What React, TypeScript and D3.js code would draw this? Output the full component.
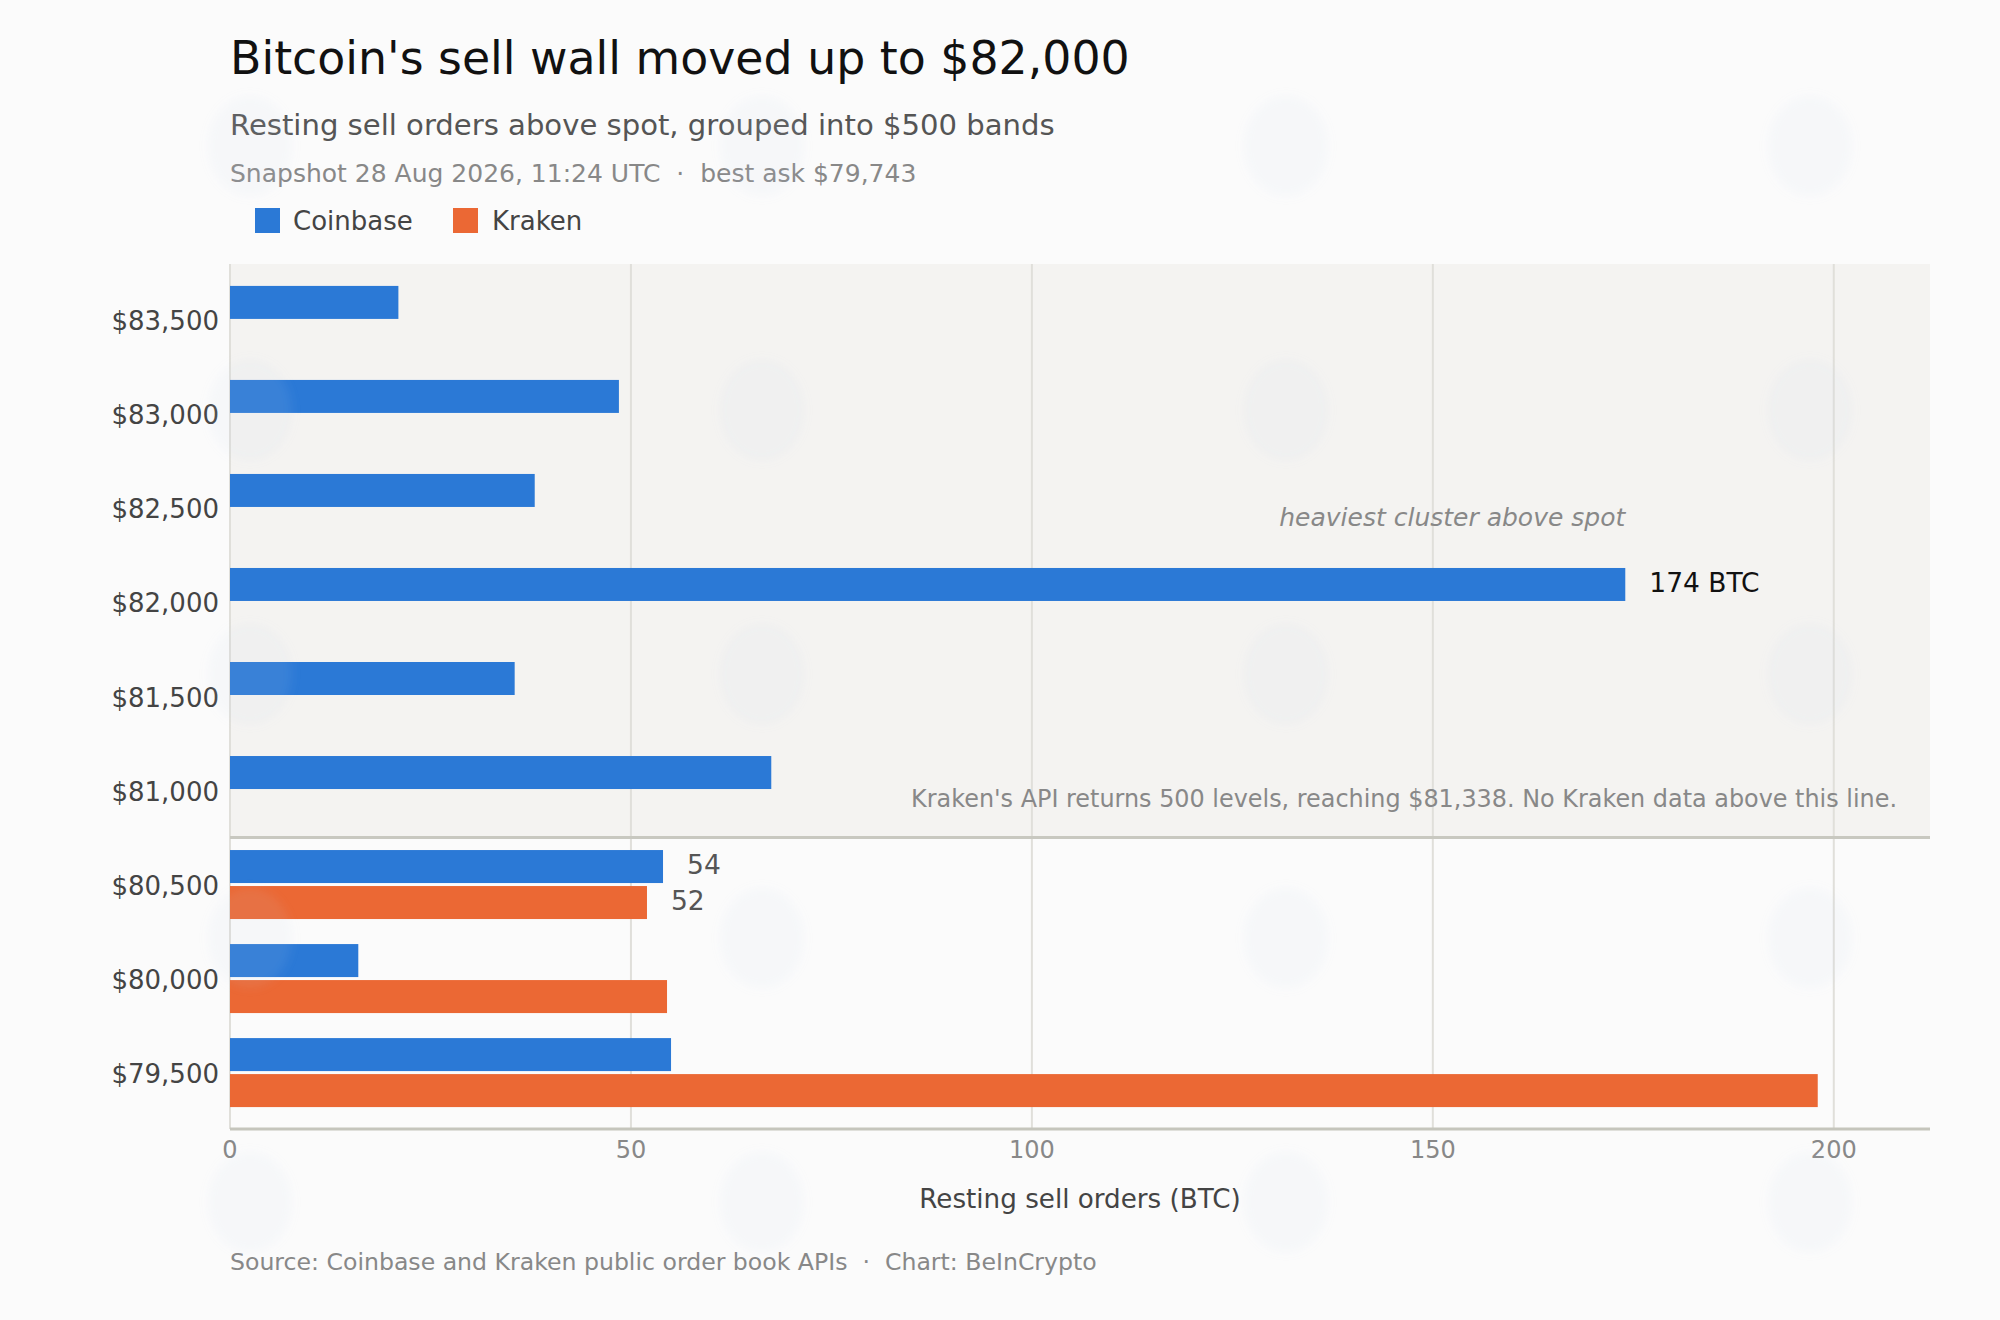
import * as d3 from 'd3';

// price bands, top to bottom
const bands = ['$83,500', '$83,000', '$82,500', '$82,000', '$81,500', '$81,000', '$80,500', '$80,000', '$79,500'];
// resting sell orders in BTC
const coinbase = [21, 48.5, 38, 174, 35.5, 67.5, 54, 16, 55];
const kraken: (number | null)[] = [null, null, null, null, null, null, 52, 54.5, 198];
const xTicks = [0, 50, 100, 150, 200];
// bands above this one have no Kraken data
const krakenLimitBand = '$81,000';

const valueLabels = [
  { band: '$82,000', series: 'coinbase', text: '174 BTC', dark: true },
  { band: '$80,500', series: 'coinbase', text: '54', dark: false },
  { band: '$80,500', series: 'kraken', text: '52', dark: false },
];

// faint logo watermark grid
const wmCols = [250, 762, 1286, 1810];
const wmRows = [146, 410, 674, 938, 1202];

const W = 2000;
const H = 1320;
const margin = { top: 264, right: 70, bottom: 191, left: 230 };
const FONT = '"DejaVu Sans", sans-serif';
const BLUE = '#2b79d6';
const ORANGE = '#eb6834';

const App = () => {
  const x = d3.scaleLinear().domain([0, 212]).range([margin.left, W - margin.right]);
  const y = d3.scalePoint<string>().domain(bands).range([margin.top, H - margin.bottom]).padding(0.6);
  const step = y.step();
  const barH = 33;
  const gap = 3;
  const plotTop = margin.top;
  const plotBottom = H - margin.bottom;
  const sepY = (y(krakenLimitBand) as number) + step / 2;

  const barY = (band: string, series: string) => {
    const c = y(band) as number;
    return series === 'coinbase' ? c - barH - gap / 2 : c + gap / 2;
  };

  return (
    <svg width={W} height={H} style={{ position: 'absolute', left: 0, top: 0, display: 'block' }} fontFamily={FONT}>
      <defs>
        <filter id="wm-blur" x="-50%" y="-50%" width="200%" height="200%">
          <feGaussianBlur stdDeviation={5} />
        </filter>
      </defs>
      <rect x={0} y={0} width={W} height={H} fill="#fbfbfb" />

      {/* header */}
      <text x={230} y={74} fontSize={45.8} fill="#111">Bitcoin's sell wall moved up to $82,000</text>
      <text x={230} y={135} fontSize={29.1} fill="#555">Resting sell orders above spot, grouped into $500 bands</text>
      <text x={230} y={182} fontSize={25} fill="#888">
        {'Snapshot 28 Aug 2026, 11:24 UTC\u00a0\u00a0·\u00a0\u00a0best ask $79,743'}
      </text>

      {/* legend */}
      <rect x={255} y={208} width={25} height={25} fill={BLUE} />
      <text x={293} y={230} fontSize={26} fill="#444">Coinbase</text>
      <rect x={453} y={208} width={25} height={25} fill={ORANGE} />
      <text x={492} y={230} fontSize={26} fill="#444">Kraken</text>

      {/* shaded zone with no Kraken data */}
      <rect x={x(0)} y={plotTop} width={x(212) - x(0)} height={sepY - plotTop} fill="#f4f3f1" />

      {/* grid */}
      {xTicks.map(t => (
        <line key={t} x1={x(t)} x2={x(t)} y1={plotTop} y2={plotBottom} stroke="#e0dfda" strokeWidth={2} />
      ))}

      {/* bars */}
      {bands.map((b, i) => (
        <g key={b}>
          <rect x={x(0)} y={barY(b, 'coinbase')} width={x(coinbase[i]) - x(0)} height={barH} fill={BLUE} />
          {kraken[i] != null && (
            <rect x={x(0)} y={barY(b, 'kraken')} width={x(kraken[i] as number) - x(0)} height={barH} fill={ORANGE} />
          )}
        </g>
      ))}

      {/* value labels */}
      {valueLabels.map(l => {
        const i = bands.indexOf(l.band);
        const v = l.series === 'coinbase' ? coinbase[i] : (kraken[i] as number);
        return (
          <text
            key={l.band + l.series}
            x={x(v) + 24}
            y={barY(l.band, l.series) + barH / 2 - 2}
            dominantBaseline="central"
            fontSize={26.5}
            fill={l.dark ? '#111' : '#555'}
          >
            {l.text}
          </text>
        );
      })}

      {/* annotations */}
      <text
        x={x(174)}
        y={(y('$82,000') as number) - 76}
        textAnchor="end"
        fontSize={25}
        fontStyle="italic"
        fill="#888"
      >
        heaviest cluster above spot
      </text>
      <line x1={x(0)} x2={x(212)} y1={sepY} y2={sepY} stroke="#c8c8c0" strokeWidth={3} />
      <text x={1897} y={sepY - 31} textAnchor="end" fontSize={23.9} fill="#888">
        Kraken's API returns 500 levels, reaching $81,338. No Kraken data above this line.
      </text>

      {/* axes */}
      <line x1={x(0)} x2={x(212)} y1={plotBottom} y2={plotBottom} stroke="#c5c5bc" strokeWidth={3} />
      {xTicks.map(t => (
        <text key={t} x={x(t)} y={1158} textAnchor="middle" fontSize={24} fill="#888">
          {t}
        </text>
      ))}
      {bands.map(b => (
        <text key={b} x={219} y={(y(b) as number) + 1} textAnchor="end" dominantBaseline="central" fontSize={26} fill="#444">
          {b}
        </text>
      ))}
      <text x={(x(0) + x(212)) / 2} y={1208} textAnchor="middle" fontSize={26.2} fill="#444">
        Resting sell orders (BTC)
      </text>

      {/* footer */}
      <text x={230} y={1270} fontSize={23.6} fill="#888">
        {'Source: Coinbase and Kraken public order book APIs\u00a0\u00a0·\u00a0\u00a0Chart: BeInCrypto'}
      </text>

      {/* watermark */}
      <g pointerEvents="none" filter="url(#wm-blur)">
        {wmRows.map(r =>
          wmCols.map(c => (
            <ellipse key={`${r}-${c}`} cx={c} cy={r} rx={42} ry={50} fill="#c8d6ee" opacity={0.09} />
          ))
        )}
      </g>
    </svg>
  );
};

export default App;
